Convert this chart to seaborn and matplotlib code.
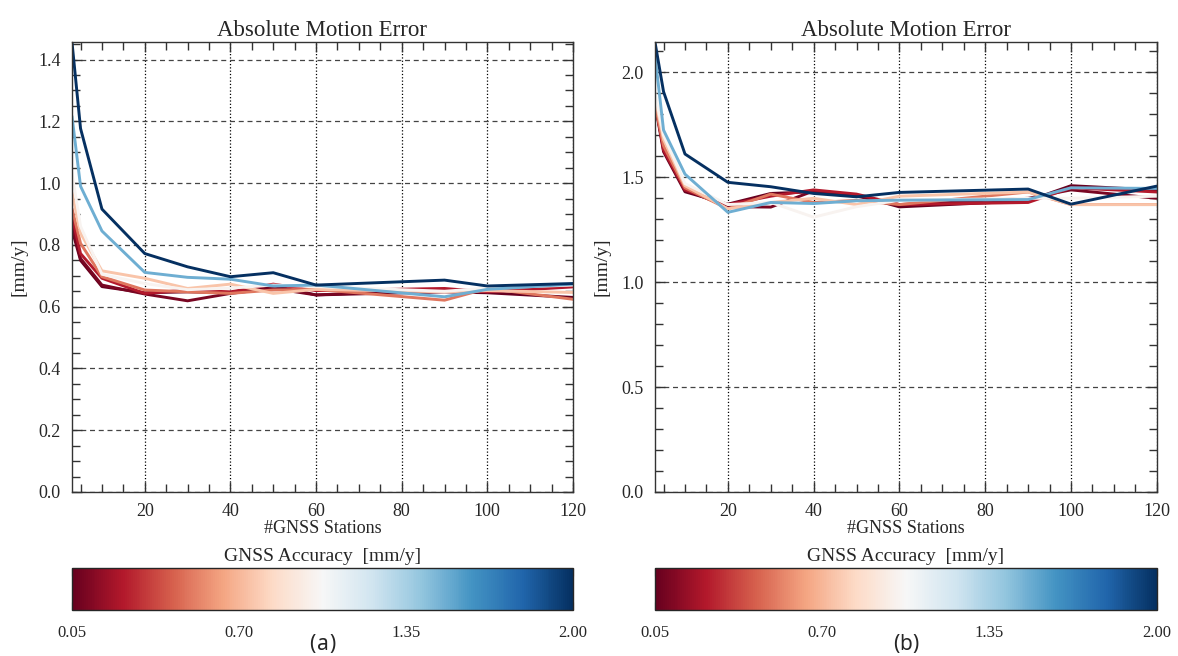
import numpy as np
import pandas as pd
import matplotlib
matplotlib.use("Agg")
import matplotlib.pyplot as plt
import matplotlib.cm as cm
from matplotlib.colors import Normalize
from matplotlib.ticker import MultipleLocator, FixedLocator
import seaborn as sns

sns.set_style("ticks")
plt.rcParams['font.family'] = ['Liberation Serif', 'DejaVu Serif']
plt.rcParams['mathtext.fontset'] = 'custom'
plt.rcParams['mathtext.rm'] = 'Noto Sans'
plt.rcParams['mathtext.bf'] = 'Noto Sans:weight=bold'

# number of GNSS stations
stations = [3, 5, 10, 20, 30, 40, 50, 60, 90, 100, 120]
# GNSS accuracy of each curve [mm/y]
accuracies = [0.05, 0.1, 0.25, 0.5, 0.75, 1.0, 1.5, 2.0]

# (a) absolute motion error, one list per accuracy
err_a = {
    0.05: [0.85, 0.75, 0.665, 0.645, 0.648, 0.645, 0.668, 0.638, 0.648, 0.645, 0.630],
    0.1:  [0.864, 0.756, 0.670, 0.641, 0.619, 0.643, 0.659, 0.638, 0.656, 0.648, 0.667],
    0.25: [0.891, 0.772, 0.692, 0.643, 0.654, 0.648, 0.673, 0.652, 0.659, 0.648, 0.664],
    0.5:  [0.918, 0.805, 0.697, 0.654, 0.648, 0.643, 0.654, 0.656, 0.621, 0.659, 0.624],
    0.75: [0.969, 0.838, 0.716, 0.692, 0.659, 0.673, 0.643, 0.656, 0.648, 0.652, 0.646],
    1.0:  [1.033, 0.860, 0.705, 0.675, 0.655, 0.660, 0.670, 0.665, 0.650, 0.660, 0.670],
    1.5:  [1.217, 0.990, 0.845, 0.711, 0.695, 0.689, 0.667, 0.670, 0.632, 0.656, 0.673],
    2.0:  [1.457, 1.177, 0.916, 0.772, 0.729, 0.697, 0.710, 0.670, 0.686, 0.667, 0.675],
}
# (b)
err_b = {
    0.05: [1.852, 1.622, 1.431, 1.372, 1.423, 1.431, 1.415, 1.359, 1.388, 1.460, 1.439],
    0.1:  [1.860, 1.640, 1.440, 1.360, 1.358, 1.435, 1.410, 1.370, 1.400, 1.440, 1.400],
    0.25: [1.860, 1.630, 1.440, 1.370, 1.410, 1.440, 1.420, 1.370, 1.380, 1.450, 1.430],
    0.5:  [1.850, 1.650, 1.450, 1.350, 1.420, 1.380, 1.390, 1.370, 1.430, 1.370, 1.370],
    0.75: [1.880, 1.680, 1.460, 1.350, 1.380, 1.400, 1.370, 1.410, 1.430, 1.370, 1.370],
    1.0:  [1.900, 1.700, 1.470, 1.370, 1.380, 1.310, 1.360, 1.390, 1.400, 1.400, 1.410],
    1.5:  [2.083, 1.725, 1.515, 1.333, 1.380, 1.375, 1.388, 1.391, 1.394, 1.450, 1.447],
    2.0:  [2.145, 1.908, 1.611, 1.476, 1.455, 1.423, 1.407, 1.428, 1.444, 1.372, 1.458],
}

cb_ticks = [0.05, 0.70, 1.35, 2.00]
norm = Normalize(vmin=0.05, vmax=2.0)


def to_frame(err):
    rows = []
    for acc in accuracies:
        for s, v in zip(stations, err[acc]):
            rows.append([s, v, acc])
    return pd.DataFrame(rows, columns=['Stations', 'Error', 'Accuracy'])


fig = plt.figure(figsize=(11.78, 6.56), dpi=100)
panels = [
    (err_a, [0.0611, 0.25, 0.4253, 0.686], 0.2, 0.05, "a"),
    (err_b, [0.556, 0.25, 0.426, 0.686], 0.5, 0.1, "b"),
]

for err, rect, ymaj, ymin_, letter in panels:
    ax = fig.add_axes(rect)
    df = to_frame(err)
    sns.lineplot(data=df, x='Stations', y='Error', hue='Accuracy', palette='RdBu',
                 hue_norm=norm, ax=ax, legend=False, linewidth=2.1, estimator=None)
    ymax = max(max(v) for v in err.values())
    ax.set_xlim(stations[0], 120)
    ax.set_ylim(0, ymax)
    ax.xaxis.set_major_locator(FixedLocator([20, 40, 60, 80, 100, 120]))
    ax.xaxis.set_minor_locator(MultipleLocator(5))
    ax.yaxis.set_major_locator(MultipleLocator(ymaj))
    ax.yaxis.set_minor_locator(MultipleLocator(ymin_))
    ax.tick_params(which='both', direction='in', top=True, right=True,
                   color='#333333', labelsize=13, pad=8)
    ax.tick_params(which='major', length=7, width=1)
    ax.tick_params(which='minor', length=6, width=1)
    ax.grid(axis='x', which='major', linestyle=':', color='black', linewidth=0.9)
    ax.grid(axis='y', which='major', linestyle=(0, (4, 3)), color='#444444', linewidth=0.9)
    for sp in ax.spines.values():
        sp.set_color('#333333')
        sp.set_linewidth(1.0)
    ax.set_title("Absolute Motion Error", fontsize=16.5, pad=4)
    ax.set_xlabel("#GNSS Stations", fontsize=13, labelpad=0)
    ax.set_ylabel("[mm/y]", fontsize=14, labelpad=8)

    cax = fig.add_axes([rect[0], 0.07, rect[2], 0.064])
    sm = cm.ScalarMappable(norm=norm, cmap='RdBu')
    cb = fig.colorbar(sm, cax=cax, orientation='horizontal')
    cb.set_ticks(cb_ticks)
    cb.set_ticklabels(["%.2f" % t for t in cb_ticks])
    cax.xaxis.set_minor_locator(FixedLocator([0.375, 1.025, 1.675]))
    cax.tick_params(which='both', direction='in', top=True, bottom=True,
                    length=6, labelsize=12, pad=11, color='#333333')
    cb.outline.set_linewidth(1.0)
    cax.set_title("GNSS Accuracy  [mm/y]", fontsize=14, pad=5)

    # panel letter: regular parentheses, bold letter
    x_mid = rect[0] + rect[2] / 2
    fig.text(x_mid, 0.018, "(", ha='right', va='center', fontsize=15,
             family='Noto Sans')
    fig.text(x_mid, 0.018, letter, ha='center', va='center', fontsize=15,
             family='Noto Sans', fontweight='bold')
    fig.text(x_mid + 0.0002, 0.018, ")", ha='left', va='center', fontsize=15,
             family='Noto Sans')
    # shift parens to clear the letter
    fig.texts[-3].set_x(x_mid - 0.0055)
    fig.texts[-1].set_x(x_mid + 0.0055)

fig.savefig("out.png", dpi=100)
